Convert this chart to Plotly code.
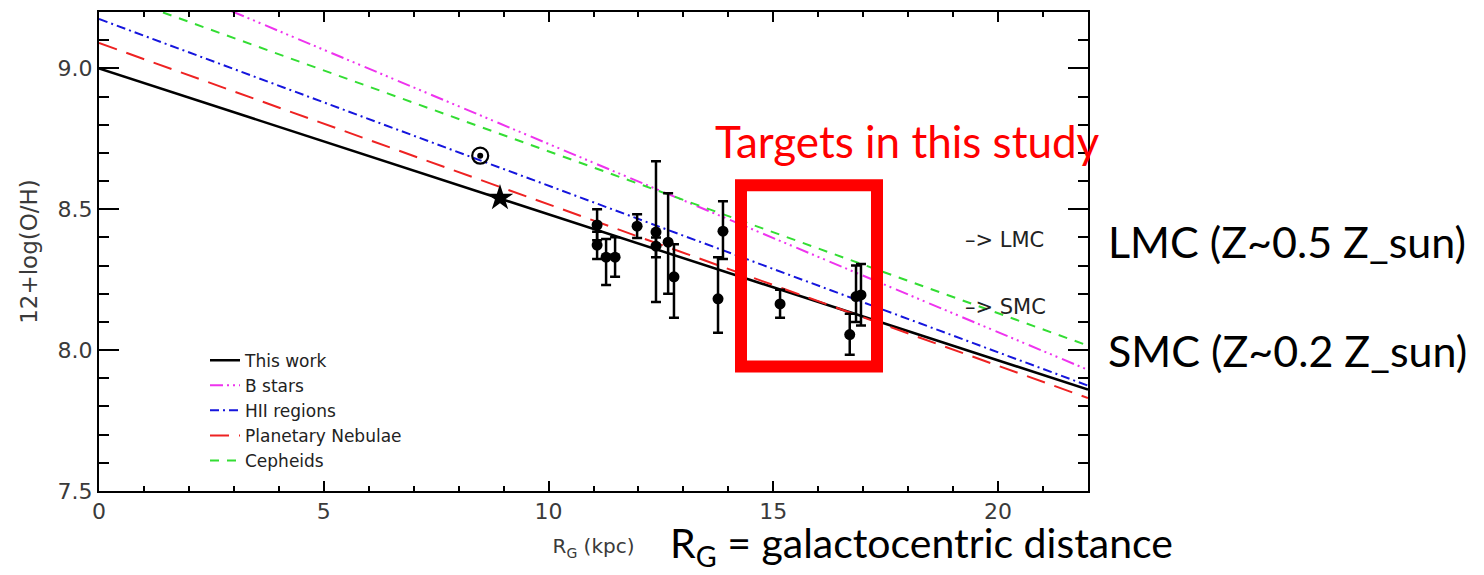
import plotly.graph_objects as go

# ---------------- data ----------------
LINE_X = [0, 22]
THIS_WORK = [9.00, 7.86]
B_STARS = [9.40, 7.93]
HII_REGIONS = [9.175, 7.874]
PLANETARY_NEBULAE = [9.09, 7.83]
CEPHEIDS = [9.28, 8.016]

RG = [11.08, 11.08, 11.28, 11.48, 11.97, 12.39, 12.39, 12.66, 12.79, 13.77, 13.88, 15.15, 16.70, 16.84, 16.95]
OH = [8.444, 8.373, 8.330, 8.330, 8.440, 8.419, 8.369, 8.383, 8.260, 8.182, 8.422, 8.164, 8.055, 8.190, 8.196]
OH_HI = [8.500, 8.420, 8.394, 8.401, 8.482, 8.670, 8.400, 8.557, 8.376, 8.330, 8.528, 8.214, 8.129, 8.300, 8.306]
OH_LO = [8.390, 8.323, 8.231, 8.260, 8.398, 8.171, 8.330, 8.200, 8.115, 8.062, 8.323, 8.115, 7.984, 8.100, 8.087]

SUN_X, SUN_Y = [8.48], [8.69]
STAR_X, STAR_Y = [8.92], [8.54]

X_TICKS = [0, 5, 10, 15, 20]
Y_TICKS = [7.5, 8.0, 8.5, 9.0]

# ---------------- layout helpers ----------------
# the page body has an 8px margin, so the figure is drawn 8px smaller and
# everything is laid out in window pixels minus that offset
OFF = 8
W, H = 1484 - OFF, 575 - OFF
L, R, T, B = 99, 1088, 10, 491   # plot area in window pixels


def px(x):
    return (x - L) / (R - L)


def py(y):
    return (B - y) / (B - T)


AXFONT = "DejaVu Sans"
BIGFONT = "Lato"

fig = go.Figure()

lines = [
    ("This work", THIS_WORK, "black", "solid", 2.5),
    ("B stars", B_STARS, "#ee33ee", "13px,4px,2px,4px,2px,4px,2px,5px", 2),
    ("HII regions", HII_REGIONS, "#1515dd", "9px,4px,2px,4px", 2),
    ("Planetary Nebulae", PLANETARY_NEBULAE, "#ee2222", "19px,10px", 2),
    ("Cepheids", CEPHEIDS, "#33dd33", "9px,8px", 2),
]
for name, ys, col, dash, w in lines:
    fig.add_trace(go.Scatter(x=LINE_X, y=ys, mode="lines", name=name,
                             line=dict(color=col, dash=dash, width=w)))

err_plus = [h - y for h, y in zip(OH_HI, OH)]
err_minus = [y - l for y, l in zip(OH, OH_LO)]
fig.add_trace(go.Scatter(
    x=RG, y=OH, mode="markers", showlegend=False,
    marker=dict(color="black", size=11),
    error_y=dict(type="data", array=err_plus, arrayminus=err_minus,
                 color="black", thickness=2.5, width=5)))

fig.add_trace(go.Scatter(x=SUN_X, y=SUN_Y, mode="markers", showlegend=False,
                         marker=dict(symbol="circle-open", size=16, color="black",
                                     line=dict(width=2.2, color="black"))))
fig.add_trace(go.Scatter(x=SUN_X, y=SUN_Y, mode="markers", showlegend=False,
                         marker=dict(symbol="circle", size=6, color="black")))
fig.add_trace(go.Scatter(x=STAR_X, y=STAR_Y, mode="markers", showlegend=False,
                         marker=dict(symbol="star", size=20, color="black")))

axis_common = dict(showline=True, linecolor="black", linewidth=2, mirror="ticks",
                   showgrid=False, zeroline=False, ticks="inside", tickcolor="black",
                   tickfont=dict(family=AXFONT, size=22, color="#3a3a3a"))

fig.update_xaxes(range=[0, 22], tickvals=X_TICKS, ticklen=10, tickwidth=2,
                 minor=dict(dtick=1, ticks="inside", ticklen=5, tickwidth=1.5, tickcolor="black"),
                 title=dict(text="R<sub>G</sub> (kpc)", font=dict(family=AXFONT, size=20, color="#3a3a3a"),
                            standoff=16),
                 **axis_common)
fig.update_yaxes(range=[7.5, 9.2], tickvals=Y_TICKS, tickformat=".1f", ticklen=20, tickwidth=2,
                 minor=dict(dtick=0.1, tick0=7.5, ticks="inside", ticklen=10, tickwidth=1.5,
                            tickcolor="black"),
                 title=dict(text="12+log(O/H)", font=dict(family=AXFONT, size=23, color="#3a3a3a"),
                            standoff=14),
                 **axis_common)

annotations = [
    dict(text="Targets in this study", x=px(713), y=py(140), xanchor="left", yanchor="middle",
         font=dict(family=BIGFONT, size=44, color="#ff0000")),
    dict(text="LMC (Z~0.5 Z_sun)", x=px(1106), y=py(240), xanchor="left", yanchor="middle",
         font=dict(family=BIGFONT, size=43, color="black")),
    dict(text="SMC (Z~0.2 Z_sun)", x=px(1106), y=py(350), xanchor="left", yanchor="middle",
         font=dict(family=BIGFONT, size=43, color="black")),
    dict(text="R<sub>G</sub> = galactocentric distance", x=px(668), y=py(546), xanchor="left",
         yanchor="middle", font=dict(family=BIGFONT, size=41, color="black")),
    dict(text="–> LMC", x=px(963), y=py(239), xanchor="left", yanchor="middle",
         font=dict(family=AXFONT, size=21, color="#222")),
    dict(text="–> SMC", x=px(963), y=py(306), xanchor="left", yanchor="middle",
         font=dict(family=AXFONT, size=21, color="#222")),
]
for a in annotations:
    a.update(xref="paper", yref="paper", showarrow=False)

fig.update_layout(
    width=W, height=H,
    margin=dict(l=L - OFF, r=W - (R - OFF), t=T - OFF, b=H - (B - OFF), pad=0),
    paper_bgcolor="white", plot_bgcolor="white",
    annotations=annotations,
    shapes=[dict(type="rect", xref="paper", yref="paper",
                 x0=px(741), x1=px(877), y0=py(366), y1=py(184),
                 line=dict(color="#ff0000", width=12))],
    legend=dict(x=px(205), y=py(342), xanchor="left", yanchor="top",
                bgcolor="rgba(0,0,0,0)", font=dict(family=AXFONT, size=17, color="#222"),
                tracegroupgap=0, itemwidth=30),
    showlegend=True,
)

fig.write_html("out.html")
